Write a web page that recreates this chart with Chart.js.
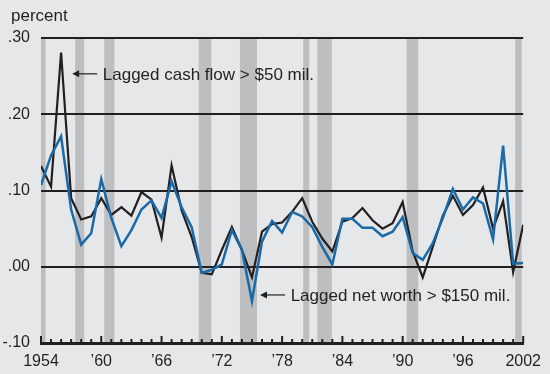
<!DOCTYPE html>
<html>
<head>
  <title>Lagged cash flow and net worth</title>
  <script src="https://cdn.jsdelivr.net/npm/chart.js"></script>
  <style>
    body {
      margin: 0;
      background: #e6e7e8;
    }
    #wrap {
      width: 550px;
      height: 374px;
    }
  </style>
</head>
<body>
  <div id="wrap"><canvas id="chartCanvas"></canvas></div>

  <script>
    const years = [1954, 1955, 1956, 1957, 1958, 1959, 1960, 1961, 1962, 1963,
      1964, 1965, 1966, 1967, 1968, 1969, 1970, 1971, 1972, 1973,
      1974, 1975, 1976, 1977, 1978, 1979, 1980, 1981, 1982, 1983,
      1984, 1985, 1986, 1987, 1988, 1989, 1990, 1991, 1992, 1993,
      1994, 1995, 1996, 1997, 1998, 1999, 2000, 2001, 2002];

    const cashFlow = [0.132, 0.105, 0.281, 0.090, 0.062, 0.066, 0.090, 0.068, 0.078, 0.067,
      0.098, 0.088, 0.038, 0.133, 0.074, 0.039, -0.008, -0.010, 0.022, 0.052,
      0.022, -0.014, 0.046, 0.056, 0.058, 0.072, 0.090, 0.059, 0.037, 0.020,
      0.059, 0.064, 0.077, 0.061, 0.050, 0.057, 0.085, 0.020, -0.014, 0.026,
      0.067, 0.093, 0.068, 0.081, 0.104, 0.050, 0.086, -0.007, 0.055];

    const netWorth = [0.107, 0.146, 0.171, 0.075, 0.029, 0.044, 0.115, 0.064, 0.027, 0.048,
      0.075, 0.087, 0.064, 0.112, 0.078, 0.052, -0.008, -0.004, 0.003, 0.048,
      0.022, -0.045, 0.033, 0.060, 0.045, 0.072, 0.066, 0.052, 0.026, 0.003,
      0.063, 0.063, 0.051, 0.051, 0.040, 0.046, 0.065, 0.018, 0.009, 0.031,
      0.064, 0.102, 0.075, 0.091, 0.083, 0.036, 0.159, 0.004, 0.005];

    // shaded recession periods (start, end) in fractional years
    const recessions = [[1954.0, 1954.45], [1957.4, 1958.3], [1960.3, 1961.3],
      [1969.7, 1970.95], [1973.8, 1975.5], [1980.1, 1980.7], [1981.5, 1982.95],
      [1990.4, 1991.55], [2001.2, 2001.85]];

    const labeledYears = [1954, 1960, 1966, 1972, 1978, 1984, 1990, 1996, 2002];

    const INK = '#231f20';
    const BLUE = '#1a6aa8';
    const SHADE = '#bcbec0';
    const FONT = 'Arial, "Liberation Sans", Helvetica, sans-serif';

    function yearLabel(v) {
      if (!labeledYears.includes(v)) return '';
      if (v === 1954 || v === 2002) return String(v);
      return '\u2019' + String(v).slice(2);
    }

    function pctLabel(v) {
      return v.toFixed(2).replace('0.', '.');
    }

    const backdrop = {
      id: 'backdrop',
      beforeDraw(chart) {
        const { ctx, chartArea, scales } = chart;
        ctx.save();
        ctx.fillStyle = '#e6e7e8';
        ctx.fillRect(0, 0, chart.width, chart.height);
        ctx.fillStyle = SHADE;
        for (const [a, b] of recessions) {
          const x0 = Math.max(scales.x.getPixelForValue(a), chartArea.left);
          const x1 = Math.min(scales.x.getPixelForValue(b), chartArea.right);
          ctx.fillRect(x0, chartArea.top, x1 - x0, chartArea.bottom - chartArea.top);
        }
        ctx.fillStyle = INK;
        ctx.font = '17px ' + FONT;
        ctx.textBaseline = 'middle';
        ctx.textAlign = 'left';
        ctx.fillText('percent', 11, 16);
        ctx.restore();
      }
    };

    function arrowNote(ctx, scales, fromYr, toYr, textYr, val, text) {
      const y = scales.y.getPixelForValue(val);
      const xa = scales.x.getPixelForValue(fromYr);
      const xb = scales.x.getPixelForValue(toYr);
      ctx.strokeStyle = INK;
      ctx.fillStyle = INK;
      ctx.lineWidth = 1.2;
      ctx.beginPath();
      ctx.moveTo(xa + 5, y);
      ctx.lineTo(xb, y);
      ctx.stroke();
      ctx.beginPath();
      ctx.moveTo(xa, y);
      ctx.lineTo(xa + 7, y - 3.5);
      ctx.lineTo(xa + 7, y + 3.5);
      ctx.closePath();
      ctx.fill();
      ctx.font = '17px ' + FONT;
      ctx.textBaseline = 'middle';
      ctx.textAlign = 'left';
      ctx.fillText(text, scales.x.getPixelForValue(textYr), y + 1);
    }

    const overlay = {
      id: 'overlay',
      afterDatasetsDraw(chart) {
        const { ctx, chartArea, scales } = chart;
        ctx.save();
        // year tick marks pointing up from the axis
        ctx.strokeStyle = INK;
        for (const yr of years) {
          const x = scales.x.getPixelForValue(yr);
          const major = labeledYears.includes(yr);
          ctx.lineWidth = 2;
          ctx.beginPath();
          ctx.moveTo(x, chartArea.bottom);
          ctx.lineTo(x, chartArea.bottom - (major ? 7 : 4));
          ctx.stroke();
        }
        arrowNote(ctx, scales, 1957.1, 1959.6, 1960.15, 0.253, 'Lagged cash flow > $50 mil.');
        arrowNote(ctx, scales, 1975.8, 1978.3, 1978.85, -0.037, 'Lagged net worth > $150 mil.');
        ctx.restore();
      }
    };

    const ctx = document.getElementById('chartCanvas').getContext('2d');
    new Chart(ctx, {
      type: 'line',
      data: {
        labels: years,
        datasets: [
          {
            label: 'Lagged cash flow > $50 mil.',
            data: years.map((yr, i) => ({ x: yr, y: cashFlow[i] })),
            borderColor: INK,
            borderWidth: 2.2,
            pointRadius: 0,
            tension: 0,
            fill: false,
            order: 1
          },
          {
            label: 'Lagged net worth > $150 mil.',
            data: years.map((yr, i) => ({ x: yr, y: netWorth[i] })),
            borderColor: BLUE,
            borderWidth: 2.5,
            pointRadius: 0,
            tension: 0,
            fill: false,
            order: 0
          }
        ]
      },
      options: {
        responsive: true,
        maintainAspectRatio: false,
        animation: false,
        layout: {
          padding: { top: 38, left: 0, right: 24, bottom: 0 }
        },
        plugins: {
          legend: { display: false },
          tooltip: { enabled: false }
        },
        scales: {
          x: {
            type: 'linear',
            min: 1954,
            max: 2002,
            afterFit(scale) { scale.height = 31; },
            afterBuildTicks(scale) {
              scale.ticks = years.map(v => ({ value: v }));
            },
            ticks: {
              autoSkip: false,
              maxRotation: 0,
              padding: 9,
              color: INK,
              font: { family: FONT, size: 16 },
              callback: v => yearLabel(v)
            },
            grid: { display: true, drawOnChartArea: false, drawTicks: false },
            border: { display: true, color: INK, width: 3 }
          },
          y: {
            min: -0.1,
            max: 0.3,
            afterFit(scale) { scale.width = 41; },
            ticks: {
              stepSize: 0.1,
              padding: 11,
              color: INK,
              font: { family: FONT, size: 16 },
              callback: v => pctLabel(v)
            },
            grid: { color: INK, lineWidth: 2, drawTicks: false },
            border: { display: false }
          }
        }
      },
      plugins: [backdrop, overlay]
    });
  </script>
</body>
</html>
